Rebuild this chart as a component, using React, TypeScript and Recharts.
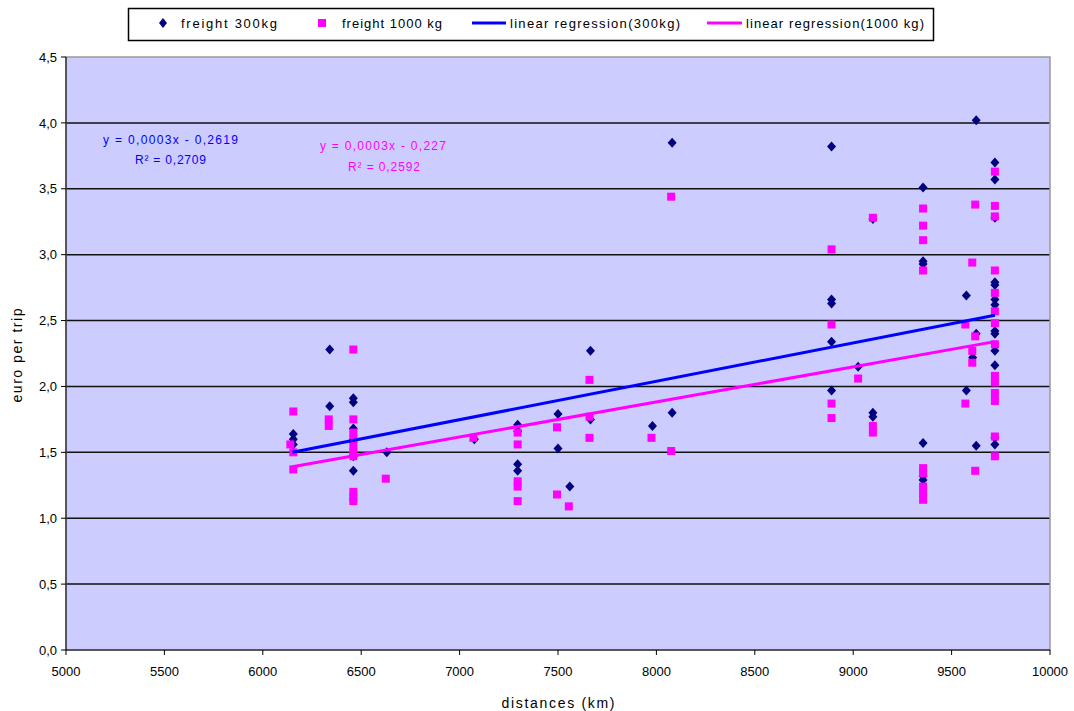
import React from "react";
import { ScatterChart, Scatter, XAxis, YAxis, CartesianGrid, ReferenceArea } from "recharts";

// distances (km) and the euro-per-trip values measured at each distance
const dist300 = [6155, 6340, 6460, 6630, 7075, 7295, 7500, 7560, 7665, 7980, 8080, 8890, 9025, 9100, 9355, 9575, 9607, 9625, 9720];
const euro300 = [
  [1.64, 1.6, 1.56],
  [2.28, 1.85],
  [1.91, 1.88, 1.68, 1.6, 1.47, 1.36],
  [1.5],
  [1.6],
  [1.71, 1.66, 1.41, 1.36],
  [1.79, 1.53],
  [1.24],
  [2.27, 1.75],
  [1.7],
  [3.85, 1.8],
  [3.82, 2.66, 2.63, 2.34, 1.97],
  [2.15],
  [3.27, 1.8, 1.77],
  [3.51, 2.95, 2.93, 1.57, 1.32, 1.29],
  [2.69, 1.97],
  [2.22],
  [4.02, 2.4, 1.55],
  [3.7, 3.57, 3.28, 2.79, 2.77, 2.66, 2.62, 2.42, 2.4, 2.27, 2.16, 1.61, 1.56],
];

const dist1000 = [6140, 6155, 6335, 6460, 6625, 7070, 7295, 7495, 7555, 7660, 7975, 8075, 8890, 9025, 9100, 9355, 9570, 9605, 9620, 9720];
const euro1000 = [
  [1.56],
  [1.81, 1.5, 1.37],
  [1.75, 1.7],
  [2.28, 1.75, 1.65, 1.6, 1.55, 1.5, 1.47, 1.2, 1.16, 1.13],
  [1.3],
  [1.61],
  [1.65, 1.56, 1.28, 1.24, 1.13],
  [1.69, 1.18],
  [1.09],
  [2.05, 1.77, 1.61],
  [1.61],
  [3.44, 1.51],
  [3.04, 2.47, 1.87, 1.76],
  [2.06],
  [3.28, 1.7, 1.65],
  [3.35, 3.22, 3.11, 2.88, 1.38, 1.34, 1.24, 1.19, 1.14],
  [2.47, 1.87],
  [2.94, 2.27, 2.18],
  [3.38, 2.38, 1.36],
  [3.63, 3.37, 3.29, 2.88, 2.71, 2.57, 2.48, 2.32, 2.08, 2.03, 1.95, 1.89, 1.62, 1.47],
];

// trend line end points
const regX = [6150, 9720];
const reg300Y = [1.5, 2.54];
const reg1000Y = [1.39, 2.34];

const xTicks = [5000, 5500, 6000, 6500, 7000, 7500, 8000, 8500, 9000, 9500, 10000];
const yTicks = [0, 0.5, 1, 1.5, 2, 2.5, 3, 3.5, 4, 4.5];
const yGrid = [0.5, 1, 1.5, 2, 2.5, 3, 3.5, 4];

const toPoints = (xs: number[], ys: number[][]) => xs.flatMap((x, i) => ys[i].map((y) => ({ x, y })));
const freight300 = toPoints(dist300, euro300);
const freight1000 = toPoints(dist1000, euro1000);
const reg300 = regX.map((x, i) => ({ x, y: reg300Y[i] }));
const reg1000 = regX.map((x, i) => ({ x, y: reg1000Y[i] }));

const font = "'Liberation Sans', Arial, sans-serif";
const tick = { fill: "#000", fontSize: 13, fontFamily: font };

const Diamond = (p: any) => (
  <polygon points={`${p.cx},${p.cy - 5} ${p.cx + 4.5},${p.cy} ${p.cx},${p.cy + 5} ${p.cx - 4.5},${p.cy}`} fill="#000080" />
);
const Square = (p: any) => <rect x={p.cx - 4} y={p.cy - 4} width={8} height={8} fill="#FF00FF" />;
const NoDot = () => <g />;

const fmt = (v: number) => v.toFixed(1).replace(".", ",");

function Overlay() {
  return (
    <svg width={1074} height={711} style={{ position: "absolute", left: 0, top: 0, pointerEvents: "none" }} fontFamily={font}>
      <rect x={128.5} y={8.5} width={805} height={32} fill="#fff" stroke="#000" strokeWidth={1.5} />
      <polygon points="163,18 167,23 163,28 159,23" fill="#000080" />
      <text x={181} y={28} fontSize={13} textLength={96} lengthAdjust="spacing">freight 300kg</text>
      <rect x={318} y={19} width={8} height={8} fill="#FF00FF" />
      <text x={342} y={28} fontSize={13} textLength={100} lengthAdjust="spacing">freight 1000 kg</text>
      <line x1={472} x2={506} y1={23} y2={23} stroke="#0000FF" strokeWidth={3} />
      <text x={510} y={28} fontSize={13} textLength={170} lengthAdjust="spacing">linear regression(300kg)</text>
      <line x1={707} x2={742} y1={23} y2={23} stroke="#FF00FF" strokeWidth={3} />
      <text x={746} y={28} fontSize={13} textLength={178} lengthAdjust="spacing">linear regression(1000 kg)</text>

      <text x={103} y={144} fontSize={12} fill="#0000FF" textLength={135} lengthAdjust="spacing">y = 0,0003x - 0,2619</text>
      <text x={135} y={164} fontSize={12} fill="#0000FF" textLength={71} lengthAdjust="spacing">R² = 0,2709</text>
      <text x={320} y={150} fontSize={12} fill="#FF00FF" textLength={126} lengthAdjust="spacing">y = 0,0003x - 0,227</text>
      <text x={348} y={171} fontSize={12} fill="#FF00FF" textLength={72} lengthAdjust="spacing">R² = 0,2592</text>
    </svg>
  );
}

export default function App() {
  return (
    <div style={{ position: "absolute", left: 0, top: 0, width: 1074, height: 711, background: "#fff" }}>
      <ScatterChart width={1074} height={711} margin={{ top: 57, right: 24, left: 0, bottom: 0 }}>
        <CartesianGrid vertical={false} horizontalValues={yGrid} stroke="#111" strokeWidth={1.5} fill="#CCCCFF" fillOpacity={1} />
        <ReferenceArea x1={5000} x2={10000} y1={0} y2={4.5} fill="none" stroke="#999" strokeWidth={1.5} />
        <XAxis
          type="number"
          dataKey="x"
          domain={[5000, 10000]}
          ticks={xTicks}
          height={61}
          tick={tick}
          tickSize={5}
          tickMargin={12}
          axisLine={{ stroke: "#000" }}
          tickLine={{ stroke: "#000" }}
          label={{
            content: (p: any) => (
              <text x={p.viewBox.x + p.viewBox.width / 2} y={703} textAnchor="middle" dominantBaseline="central" fontSize={14} fontFamily={font} textLength={113} lengthAdjust="spacing">
                distances (km)
              </text>
            ),
          }}
        />
        <YAxis
          type="number"
          dataKey="y"
          domain={[0, 4.5]}
          ticks={yTicks}
          width={66}
          tick={tick}
          tickSize={5}
          tickMargin={4}
          tickFormatter={fmt}
          axisLine={{ stroke: "#000" }}
          tickLine={{ stroke: "#000" }}
          label={{
            content: (p: any) => {
              const cx = 17;
              const cy = p.viewBox.y + p.viewBox.height / 2 + 2;
              return (
                <text x={cx} y={cy} transform={`rotate(-90 ${cx} ${cy})`} textAnchor="middle" dominantBaseline="central" fontSize={14} fontFamily={font} textLength={94} lengthAdjust="spacing">
                  euro per trip
                </text>
              );
            },
          }}
        />
        <Scatter name="freight 300kg" data={freight300} shape={Diamond} fill="#000080" isAnimationActive={false} />
        <Scatter name="freight 1000 kg" data={freight1000} shape={Square} fill="#FF00FF" isAnimationActive={false} />
        <Scatter name="linear regression(300kg)" data={reg300} line={{ stroke: "#0000FF", strokeWidth: 3 }} shape={NoDot} isAnimationActive={false} />
        <Scatter name="linear regression(1000 kg)" data={reg1000} line={{ stroke: "#FF00FF", strokeWidth: 3 }} shape={NoDot} isAnimationActive={false} />
      </ScatterChart>
      <Overlay />
    </div>
  );
}
